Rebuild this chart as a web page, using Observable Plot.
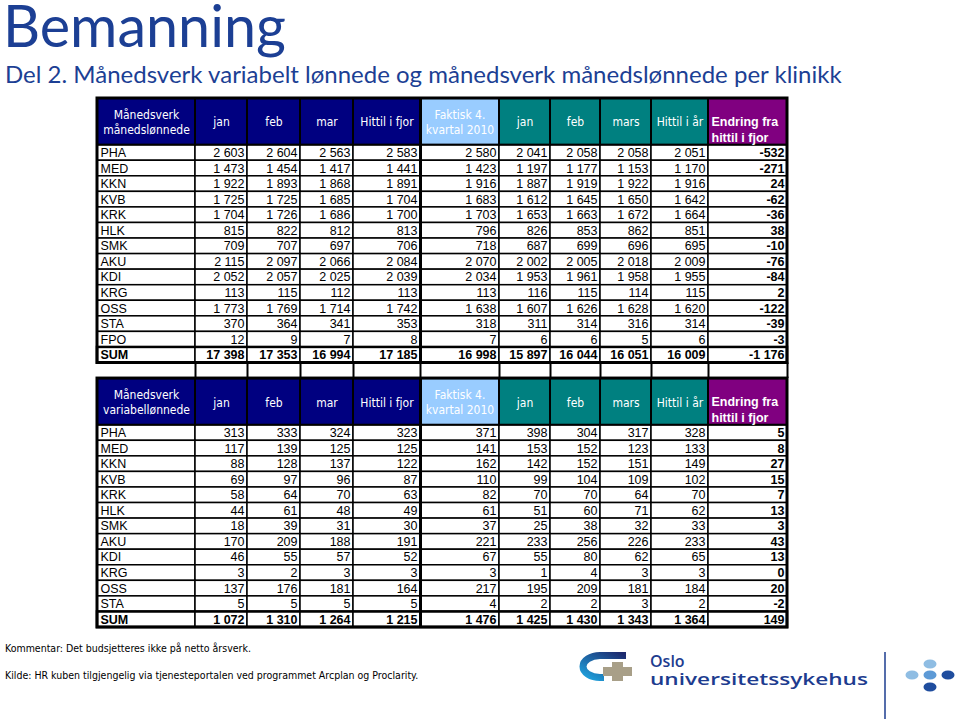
<!DOCTYPE html>
<html>
<head>
<meta charset="utf-8">
<script src="https://cdn.jsdelivr.net/npm/d3@7"></script>
<script src="https://cdn.jsdelivr.net/npm/@observablehq/plot@0.6"></script>
<style>
  body { margin: 0; background: #fff; }
  #page { position: relative; width: 960px; height: 719px; overflow: hidden; background: #fff; }
  #title { position: absolute; left: 3px; top: 1px; font-family: Lato, "Open Sans", sans-serif; font-size: 57.5px; line-height: 48px; color: #1c3f94; white-space: nowrap; }
  #subtitle { position: absolute; left: 5px; top: 62px; font-family: Lato, "Open Sans", sans-serif; font-size: 24px; line-height: 24px; color: #1c3f94; white-space: nowrap; }
  #chart { position: absolute; left: 0; top: 92px; }
  .foot { position: absolute; left: 5px; font-family: "Liberation Sans Narrow", "DejaVu Sans Condensed", sans-serif; font-size: 10.5px; line-height: 1; color: #000; white-space: nowrap; }
</style>
</head>
<body>
<div id="page">
  <div id="title">Bemanning</div>
  <div id="subtitle">Del 2. Månedsverk variabelt lønnede og månedsverk månedslønnede per klinikk</div>
  <div id="chart"></div>
  <div class="foot" style="top:643px">Kommentar: Det budsjetteres ikke på netto årsverk.</div>
  <div class="foot" style="top:670px">Kilde: HR kuben tilgjengelig via tjenesteportalen ved programmet Arcplan og Proclarity.</div>
  <svg width="960" height="719" style="position:absolute;left:0;top:0;pointer-events:none">
    <defs>
      <linearGradient id="cg" x1="1" y1="0" x2="0" y2="1">
        <stop offset="0" stop-color="#1d2a6e"/>
        <stop offset="1" stop-color="#1fa3de"/>
      </linearGradient>
    </defs>
    <path d="M 626 655.5 L 600 655.5 A 17 11 0 0 0 600 677.5 L 604 677.5" fill="none" stroke="url(#cg)" stroke-width="7" stroke-linejoin="round"/>
    <rect x="603" y="667" width="29" height="9" fill="#a89f88"/>
    <rect x="612" y="662" width="11" height="19" fill="#a89f88"/>
    <text x="650" y="667" font-family="'Open Sans', sans-serif" font-weight="600" font-size="16" fill="#1d3c8f">Oslo</text>
    <text x="650" y="685" font-family="'Open Sans', sans-serif" font-weight="600" font-size="16.5" textLength="218" lengthAdjust="spacingAndGlyphs" fill="#1d3c8f">universitetssykehus</text>
    <line x1="885" y1="652" x2="885" y2="719" stroke="#1d3c8f" stroke-width="1.5"/>
    <ellipse cx="930" cy="664" rx="6.5" ry="4.5" fill="#8fbde3"/>
    <ellipse cx="912" cy="675" rx="6.5" ry="4.5" fill="#8fbde3"/>
    <ellipse cx="930" cy="675" rx="6.5" ry="4.5" fill="#5d9ad6"/>
    <ellipse cx="948" cy="675" rx="6.5" ry="4.5" fill="#1f4d9e"/>
    <ellipse cx="930" cy="687" rx="6.5" ry="4.5" fill="#1f4d9e"/>
  </svg>
</div>
<script>
// ---------- DATA ----------
// Column headers
const headersM = ["Månedsverk\nmånedslønnede", "jan", "feb", "mar", "Hittil i fjor", "Faktisk 4.\nkvartal 2010", "jan", "feb", "mars", "Hittil i år", "Endring fra\nhittil i fjor"];
const headersV = ["Månedsverk\nvariabellønnede", "jan", "feb", "mar", "Hittil i fjor", "Faktisk 4.\nkvartal 2010", "jan", "feb", "mars", "Hittil i år", "Endring fra\nhittil i fjor"];

// Table 1: månedslønnede
const klinikkM = ["PHA", "MED", "KKN", "KVB", "KRK", "HLK", "SMK", "AKU", "KDI", "KRG", "OSS", "STA", "FPO", "SUM"];
const ml_jan10      = [2603, 1473, 1922, 1725, 1704, 815, 709, 2115, 2052, 113, 1773, 370, 12, 17398];
const ml_feb10      = [2604, 1454, 1893, 1725, 1726, 822, 707, 2097, 2057, 115, 1769, 364, 9, 17353];
const ml_mar10      = [2563, 1417, 1868, 1685, 1686, 812, 697, 2066, 2025, 112, 1714, 341, 7, 16994];
const ml_hittilFjor = [2583, 1441, 1891, 1704, 1700, 813, 706, 2084, 2039, 113, 1742, 353, 8, 17185];
const ml_faktisk4kv = [2580, 1423, 1916, 1683, 1703, 796, 718, 2070, 2034, 113, 1638, 318, 7, 16998];
const ml_jan11      = [2041, 1197, 1887, 1612, 1653, 826, 687, 2002, 1953, 116, 1607, 311, 6, 15897];
const ml_feb11      = [2058, 1177, 1919, 1645, 1663, 853, 699, 2005, 1961, 115, 1626, 314, 6, 16044];
const ml_mar11      = [2058, 1153, 1922, 1650, 1672, 862, 696, 2018, 1958, 114, 1628, 316, 5, 16051];
const ml_hittilAar  = [2051, 1170, 1916, 1642, 1664, 851, 695, 2009, 1955, 115, 1620, 314, 6, 16009];
const ml_endring    = [-532, -271, 24, -62, -36, 38, -10, -76, -84, 2, -122, -39, -3, -1176];

// Table 2: variabellønnede
const klinikkV = ["PHA", "MED", "KKN", "KVB", "KRK", "HLK", "SMK", "AKU", "KDI", "KRG", "OSS", "STA", "SUM"];
const vl_jan10      = [313, 117, 88, 69, 58, 44, 18, 170, 46, 3, 137, 5, 1072];
const vl_feb10      = [333, 139, 128, 97, 64, 61, 39, 209, 55, 2, 176, 5, 1310];
const vl_mar10      = [324, 125, 137, 96, 70, 48, 31, 188, 57, 3, 181, 5, 1264];
const vl_hittilFjor = [323, 125, 122, 87, 63, 49, 30, 191, 52, 3, 164, 5, 1215];
const vl_faktisk4kv = [371, 141, 162, 110, 82, 61, 37, 221, 67, 3, 217, 4, 1476];
const vl_jan11      = [398, 153, 142, 99, 70, 51, 25, 233, 55, 1, 195, 2, 1425];
const vl_feb11      = [304, 152, 152, 104, 70, 60, 38, 256, 80, 4, 209, 2, 1430];
const vl_mar11      = [317, 123, 151, 109, 64, 71, 32, 226, 62, 3, 181, 3, 1343];
const vl_hittilAar  = [328, 133, 149, 102, 70, 62, 33, 233, 65, 3, 184, 2, 1364];
const vl_endring    = [5, 8, 27, 15, 7, 13, 3, 43, 13, 0, 20, -2, 149];

// ---------- LAYOUT / STYLE ----------
const colW = [98, 52, 53, 53, 67, 79, 51, 50, 51, 57, 79];
const edges = Array.from(d3.cumsum([0, ...colW]));
const NAVY = "#000080", LIGHT = "#99ccff", TEAL = "#008080", PURPLE = "#800080";
const headerFills = [NAVY, NAVY, NAVY, NAVY, NAVY, LIGHT, TEAL, TEAL, TEAL, TEAL, PURPLE];

const fmt = d3.formatLocale({decimal: ",", thousands: " ", grouping: [3], currency: ["", ""], minus: "-"}).format(",d");

function buildTable(top, headers, labels, cols) {
  const head = headers.map((h, c) => ({x1: edges[c], x2: edges[c + 1], y1: top, y2: top + 3, fill: headerFills[c], text: h, c}));
  const body = [];
  labels.forEach((lab, i) => {
    const y1 = top + 3 + i, y2 = y1 + 1, sum = lab === "SUM";
    body.push({x1: edges[0], x2: edges[1], y1, y2, text: lab, label: true, bold: sum});
    cols.forEach((arr, c) => body.push({x1: edges[c + 1], x2: edges[c + 2], y1, y2, text: fmt(arr[i]), label: false, bold: sum || c === 9}));
  });
  const bottom = top + 3 + labels.length;
  return {head, body, top, bottom, sumRow: {x1: edges[0], x2: edges[11], y1: bottom - 1, y2: bottom}};
}

const t1 = buildTable(0, headersM, klinikkM, [ml_jan10, ml_feb10, ml_mar10, ml_hittilFjor, ml_faktisk4kv, ml_jan11, ml_feb11, ml_mar11, ml_hittilAar, ml_endring]);
const t2 = buildTable(t1.bottom + 1, headersV, klinikkV, [vl_jan10, vl_feb10, vl_mar10, vl_hittilFjor, vl_faktisk4kv, vl_jan11, vl_feb11, vl_mar11, vl_hittilAar, vl_endring]);
const tables = [t1, t2];
const head = [...t1.head, ...t2.head];
const body = [...t1.body, ...t2.body];
const frames = tables.map(t => ({x1: edges[0], x2: edges[11], y1: t.top, y2: t.bottom}));
const sums = tables.map(t => t.sumRow);
const spacerEdges = edges.slice(1).map(x => ({x, y1: t1.bottom, y2: t2.top}));

const sansFont = "'Liberation Sans', Arial, sans-serif";
const narrowFont = "'Liberation Sans Narrow', 'DejaVu Sans Condensed', sans-serif";
const cx = d => (d.x1 + d.x2) / 2, cy = d => (d.y1 + d.y2) / 2;

const chart = Plot.plot({
  width: 960,
  height: 545,
  marginLeft: 97,
  marginRight: 173,
  marginTop: 6,
  marginBottom: 10,
  x: {domain: [0, edges[11]], axis: null},
  y: {domain: [0, t2.bottom], reverse: true, axis: null},
  color: {type: "identity"},
  marks: [
    Plot.rect(head, {x1: "x1", x2: "x2", y1: "y1", y2: "y2", fill: "fill"}),
    Plot.rect(body, {x1: "x1", x2: "x2", y1: "y1", y2: "y2", fill: "white", stroke: "black", strokeWidth: 1.5}),
    Plot.rect(head, {x1: "x1", x2: "x2", y1: "y1", y2: "y2", fill: "none", stroke: "black", strokeWidth: 2}),
    Plot.rect(sums, {x1: "x1", x2: "x2", y1: "y1", y2: "y2", fill: "none", stroke: "black", strokeWidth: 2.5}),
    Plot.ruleX(frames, {x: () => edges[5], y1: "y1", y2: "y2", stroke: "black", strokeWidth: 3}),
    Plot.ruleX(spacerEdges, {x: "x", y1: "y1", y2: "y2", stroke: "black", strokeWidth: 2}),
    Plot.rect(frames, {x1: "x1", x2: "x2", y1: "y1", y2: "y2", fill: "none", stroke: "black", strokeWidth: 3}),
    // header texts
    Plot.text(head.filter(d => d.c < 10), {x: cx, y: cy, text: "text", fill: "white", fontSize: 12, fontFamily: narrowFont, lineHeight: 1.2, textAnchor: "middle", lineAnchor: "middle"}),
    Plot.text(head.filter(d => d.c === 10), {x: "x1", y: cy, text: "text", dx: 3, dy: 7, fill: "white", fontSize: 12.5, fontWeight: "bold", fontFamily: sansFont, lineHeight: 1.3, textAnchor: "start", lineAnchor: "middle"}),
    // body texts
    Plot.text(body.filter(d => d.label && !d.bold), {x: "x1", y: cy, text: "text", dx: 3, fontSize: 12.5, fontFamily: sansFont, textAnchor: "start", fill: "black"}),
    Plot.text(body.filter(d => d.label && d.bold), {x: "x1", y: cy, text: "text", dx: 3, fontSize: 12.5, fontWeight: "bold", fontFamily: sansFont, textAnchor: "start", fill: "black"}),
    Plot.text(body.filter(d => !d.label && !d.bold), {x: "x2", y: cy, text: "text", dx: -3, fontSize: 12.5, fontFamily: sansFont, textAnchor: "end", fill: "black"}),
    Plot.text(body.filter(d => !d.label && d.bold), {x: "x2", y: cy, text: "text", dx: -3, fontSize: 12.5, fontWeight: "bold", fontFamily: sansFont, textAnchor: "end", fill: "black"})
  ]
});
document.getElementById("chart").appendChild(chart);
</script>
</body>
</html>
